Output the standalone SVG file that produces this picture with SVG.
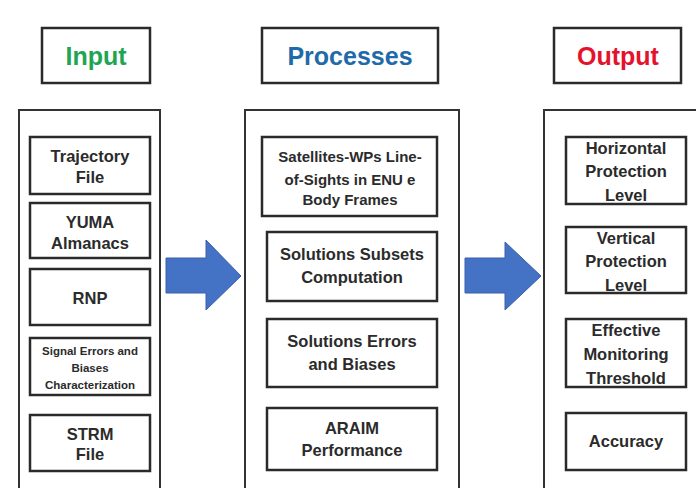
<svg xmlns="http://www.w3.org/2000/svg" width="696" height="488" viewBox="0 0 696 488">
<style>
.bg{fill:#ffffff}
.title{fill:#ffffff;stroke:#2a2a2a;stroke-width:2.5}
.cont{fill:none;stroke:#333333;stroke-width:2}
.box{fill:#ffffff;stroke:#2a2a2a;stroke-width:2.5}
.t{font-family:"Liberation Sans",Arial,sans-serif;font-weight:bold;text-anchor:middle;fill:#2b2b2b}
.n{font-size:16.5px}
.s{font-size:11.5px}
.m{font-size:15px}
.h{font-size:25px}
.arrow{fill:#4472c4;stroke:#3b5ea8;stroke-width:1}
</style>
<rect class="bg" x="0" y="0" width="696" height="488"/>

<g id="input-title">
<rect class="title" x="42" y="28" width="108" height="55"/>
<text class="t h" x="96" y="65" fill="#1fa552" style="fill:#1fa552">Input</text>
</g>
<g id="processes-title">
<rect class="title" x="262" y="28" width="176" height="55"/>
<text class="t h" x="350" y="65" style="fill:#1f6aa8">Processes</text>
</g>
<g id="output-title">
<rect class="title" x="554" y="28" width="127" height="55"/>
<text class="t h" x="618" y="65" style="fill:#e5122d">Output</text>
</g>

<g id="input-container"><path class="cont" d="M19,490 V110 H160 V490"/></g>
<g id="processes-container"><path class="cont" d="M245,490 V110 H459 V490"/></g>
<g id="output-container"><path class="cont" d="M544,490 V110 H698"/></g>

<g id="trajectory">
<rect class="box" x="30" y="137" width="120" height="57"/>
<text class="t n" x="90" y="162">Trajectory</text>
<text class="t n" x="90" y="183">File</text>
</g>
<g id="yuma">
<rect class="box" x="30" y="203" width="120" height="55"/>
<text class="t n" x="90" y="228">YUMA</text>
<text class="t n" x="90" y="249">Almanacs</text>
</g>
<g id="rnp">
<rect class="box" x="30" y="269" width="120" height="56"/>
<text class="t n" x="90" y="304">RNP</text>
</g>
<g id="signal">
<rect class="box" x="30" y="338" width="120" height="57"/>
<text class="t s" x="90" y="355">Signal Errors and</text>
<text class="t s" x="90" y="372">Biases</text>
<text class="t s" x="90" y="389">Characterization</text>
</g>
<g id="strm">
<rect class="box" x="30" y="415" width="120" height="56"/>
<text class="t n" x="90" y="440">STRM</text>
<text class="t n" x="90" y="460">File</text>
</g>

<g id="satellites">
<rect class="box" x="262" y="137" width="175" height="79"/>
<text class="t m" x="350" y="162">Satellites-WPs Line-</text>
<text class="t m" x="350" y="185">of-Sights in ENU e</text>
<text class="t m" x="350" y="205">Body Frames</text>
</g>
<g id="subsets">
<rect class="box" x="267" y="232" width="170" height="69"/>
<text class="t n" x="352" y="260">Solutions Subsets</text>
<text class="t n" x="352" y="283">Computation</text>
</g>
<g id="errors">
<rect class="box" x="267" y="319" width="170" height="68"/>
<text class="t n" x="352" y="347">Solutions Errors</text>
<text class="t n" x="352" y="370">and Biases</text>
</g>
<g id="araim">
<rect class="box" x="267" y="408" width="170" height="62"/>
<text class="t n" x="352" y="434">ARAIM</text>
<text class="t n" x="352" y="456">Performance</text>
</g>

<g id="hpl">
<rect class="box" x="566" y="137" width="120" height="67"/>
<text class="t n" x="626" y="154">Horizontal</text>
<text class="t n" x="626" y="177">Protection</text>
<text class="t n" x="626" y="201">Level</text>
</g>
<g id="vpl">
<rect class="box" x="566" y="227" width="120" height="66"/>
<text class="t n" x="626" y="244">Vertical</text>
<text class="t n" x="626" y="267">Protection</text>
<text class="t n" x="626" y="291">Level</text>
</g>
<g id="emt">
<rect class="box" x="566" y="319" width="120" height="68"/>
<text class="t n" x="626" y="336">Effective</text>
<text class="t n" x="626" y="360">Monitoring</text>
<text class="t n" x="626" y="384">Threshold</text>
</g>
<g id="accuracy">
<rect class="box" x="566" y="413" width="120" height="57"/>
<text class="t n" x="626" y="447">Accuracy</text>
</g>

<g id="connectors">
<polygon class="arrow" points="166,258 206,258 206,240 241,276 206,310 206,293 166,293"/>
<polygon class="arrow" points="465,258 505,258 505,242 541,276 505,310 505,293 465,293"/>
</g>
</svg>
